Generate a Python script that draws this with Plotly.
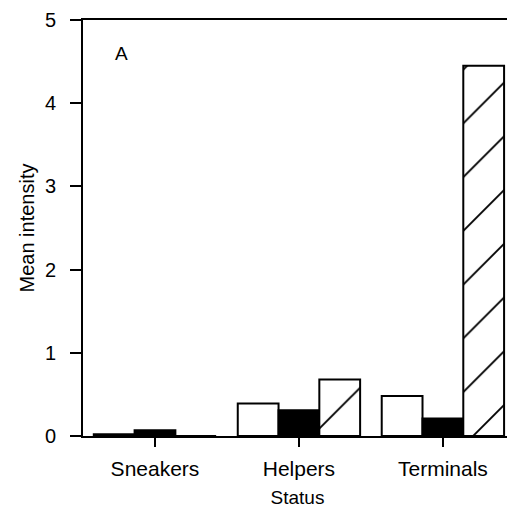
import plotly.graph_objects as go

categories = ["Sneakers", "Helpers", "Terminals"]
series_white = [0.02, 0.39, 0.48]
series_black = [0.07, 0.31, 0.21]
series_hatched = [0.0, 0.68, 4.45]
y_ticks = [0, 1, 2, 3, 4, 5]

FONT = "Liberation Sans, Arial, sans-serif"

fig = go.Figure()
fig.add_trace(go.Bar(x=categories, y=series_white, name="white",
                     marker=dict(color="white", line=dict(color="black", width=2))))
fig.add_trace(go.Bar(x=categories, y=series_black, name="black",
                     marker=dict(color="black", line=dict(color="black", width=2))))
fig.add_trace(go.Bar(x=categories, y=series_hatched, name="hatched",
                     marker=dict(color="white", line=dict(color="black", width=2),
                                 pattern=dict(shape="/", fgcolor="black", bgcolor="white",
                                              fgopacity=1, size=38, solidity=0.05))))

# page has an 8px body margin, so the figure is sized to fit the remaining window
fig.update_layout(
    width=507, height=508,
    margin=dict(l=75, r=3, t=12, b=80, autoexpand=False),
    paper_bgcolor="white", plot_bgcolor="white",
    barmode="group", bargap=0.15, bargroupgap=0,
    showlegend=False,
    font=dict(family=FONT, size=20, color="black"),
    annotations=[dict(text="A", x=0.089, y=0.92, xref="paper", yref="paper",
                      xanchor="center", yanchor="middle",
                      showarrow=False, font=dict(size=19, family=FONT, color="black"))],
)
fig.update_xaxes(
    range=[-0.5, 2.48], showline=True, linecolor="black", linewidth=2, mirror=True,
    ticks="outside", ticklen=9, tickwidth=2, tickcolor="black", automargin=False,
    tickfont=dict(size=21), ticklabelstandoff=4, showgrid=False, zeroline=False,
    title=dict(text="Status", font=dict(size=19), standoff=11),
)
fig.update_yaxes(
    range=[0, 5], tickvals=y_ticks, showline=True, linecolor="black", linewidth=2, mirror=True,
    ticks="outside", ticklen=11, tickwidth=2, tickcolor="black", automargin=False,
    tickfont=dict(size=20), ticklabelstandoff=10, ticklabeloverflow="allow",
    showgrid=False, zeroline=False,
    title=dict(text="Mean intensity", font=dict(size=20), standoff=5),
)

fig.write_html("out.html")
